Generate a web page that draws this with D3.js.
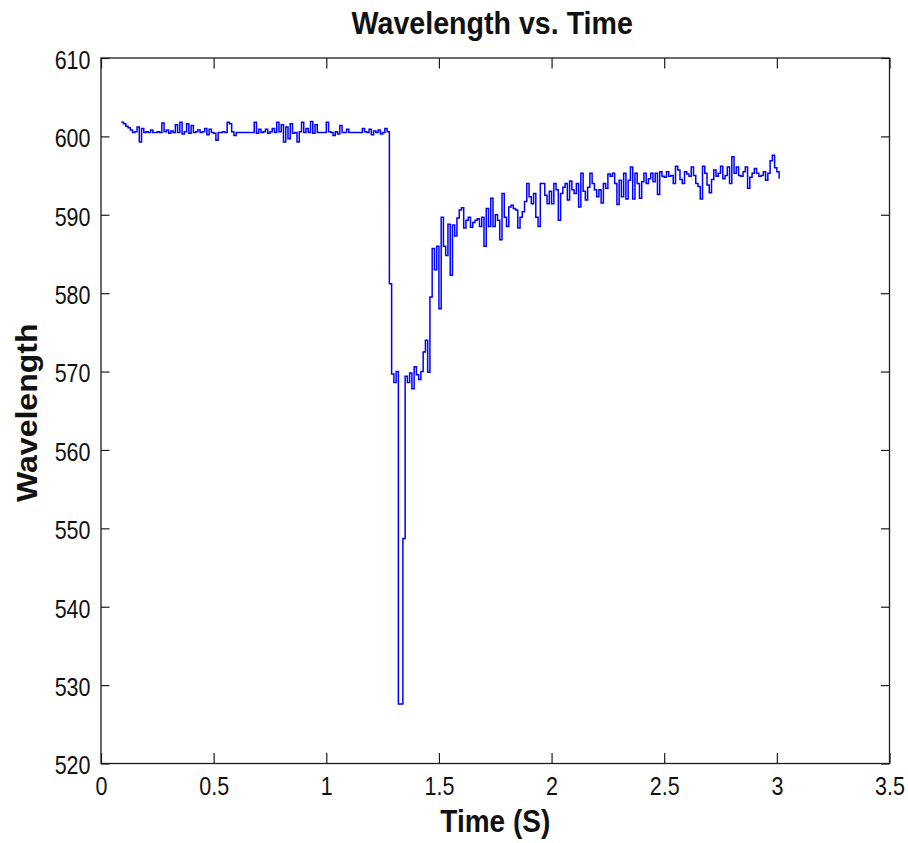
<!DOCTYPE html>
<html>
<head>
<meta charset="utf-8">
<script src="https://cdn.jsdelivr.net/npm/d3@7"></script>
<style>
  html, body { margin: 0; padding: 0; background: #fff; }
  svg { display: block; }
  text { font-family: "Liberation Sans", Arial, Helvetica, sans-serif; fill: #111; }
</style>
</head>
<body>
<svg id="chart" width="908" height="843"></svg>
<script>
// Sample clock of the recorded trace (seconds)
const sampleStart = 0.09;
const sampleStep = 0.01;

// Wavelength readings, in order of acquisition
const steadyValues = [
  601.8, 601.6, 601.3, 601.1, 600.8, 600.5, 600.6, 601.2, 599.3, 601.0,
  600.5, 600.6, 600.5, 600.8, 600.5, 600.5, 600.6, 600.5, 601.7, 600.6,
  600.8, 600.4, 600.7, 600.5, 601.5, 600.5, 601.8, 600.3, 600.6, 601.6,
  600.4, 601.4, 600.5, 600.6, 600.8, 600.5, 600.6, 601.0, 600.2, 600.9,
  600.5, 600.4, 599.5, 600.5, 600.5, 600.6, 600.5, 601.8, 601.6, 600.6,
  600.1, 600.5, 600.5, 600.5, 600.5, 600.5, 600.5, 600.5, 600.5, 601.8,
  600.4, 600.9, 600.5, 600.6, 600.9, 600.4, 600.6, 601.0, 600.5, 601.8,
  600.6, 601.5, 599.3, 601.2, 599.7, 601.6, 600.4, 600.5, 599.3, 600.6,
  601.8, 600.5, 601.0, 600.5, 601.9, 600.4, 601.5, 600.5, 600.5, 600.5,
  600.5, 601.8, 600.6, 600.5, 600.1, 600.6, 600.3, 601.4, 600.5, 600.5,
  600.9, 600.5, 600.5, 600.5, 600.5, 600.5, 600.5, 601.0, 600.6, 600.5,
  600.9, 600.2, 600.7, 600.5, 600.8, 600.3, 600.5, 601.0, 600.6
];
const dipValues = [
  581.2, 569.7, 568.6, 570.0, 527.6, 527.6, 548.7, 569.4, 568.6, 569.8,
  567.8, 570.6, 569.6, 569.0, 570.0, 572.5, 574.0, 569.9
];
const recoveryValues = [
  579.5, 585.7, 583.0, 586.0, 578.0, 589.7, 586.0, 584.8, 588.8, 582.3,
  588.7, 587.3, 589.6, 590.6, 590.9, 588.3, 589.3, 589.7, 588.4, 589.0,
  589.3, 589.5, 588.5, 589.7, 586.0, 590.8, 588.5, 592.1, 588.5, 590.0,
  589.3, 586.8, 592.7, 589.7, 588.5, 591.0, 591.2, 590.8, 590.6, 588.3,
  589.7, 590.4, 591.7, 594.0, 592.3, 591.4, 592.7, 589.7, 588.5, 594.0,
  594.0, 592.5, 591.4, 593.0, 591.4, 594.0, 593.2, 589.3, 592.7, 593.5,
  594.0, 591.9, 594.3, 593.2, 592.7, 594.0, 591.0, 595.3, 593.0, 591.9,
  593.5, 595.3, 594.0, 593.2, 592.3, 593.2, 591.5, 594.0, 593.4, 595.2,
  594.9, 595.3, 594.0, 591.3, 594.4, 592.3, 595.3, 592.0, 594.4, 596.1,
  592.0, 595.3, 594.0, 592.1, 594.2, 595.3, 594.0, 594.6, 595.3, 594.2,
  595.3, 592.6, 595.5, 594.9, 594.8, 595.5, 594.9, 595.0, 594.0, 596.2,
  595.7, 594.5, 594.0, 595.5, 595.2, 594.9, 596.1, 595.0, 594.0, 593.6,
  592.0, 596.2, 595.3, 593.8, 592.8, 594.5, 595.7, 594.9, 595.3, 596.2,
  594.6, 595.0, 596.1, 594.0, 597.4, 595.3, 596.1, 595.0, 594.9, 595.5,
  596.1, 593.4, 594.8, 595.3, 595.9, 595.3, 594.9, 595.0, 595.5, 594.4,
  595.3, 596.9, 597.6, 596.0, 595.5, 594.6
];

// Axis ticks and labels
const xTicks = [0, 0.5, 1, 1.5, 2, 2.5, 3, 3.5];
const xTickLabels = ["0", "0.5", "1", "1.5", "2", "2.5", "3", "3.5"];
const yTicks = [520, 530, 540, 550, 560, 570, 580, 590, 600, 610];
const yTickLabels = ["520", "530", "540", "550", "560", "570", "580", "590", "600", "610"];

const titleText = "Wavelength vs. Time";
const xLabelText = "Time (S)";
const yLabelText = "Wavelength";

// Combined trace as (time, wavelength) pairs
const wavelengths = steadyValues.concat(dipValues, recoveryValues);
const trace = wavelengths.map((w, i) => ({ t: sampleStart + i * sampleStep, w }));

// Layout
const plot = { left: 101, right: 889.5, top: 58, bottom: 763.5 };
const tickTextStretch = 1.2;
const labelTextStretch = 1.12;
const axisColor = "#1c1c1c";

const svg = d3.select("#chart");

const x = d3.scaleLinear().domain([0, 3.5]).range([plot.left, plot.right]);
const y = d3.scaleLinear().domain([520, 610]).range([plot.bottom, plot.top]);

// Data line
const line = d3.line()
  .x(d => x(d.t))
  .y(d => y(d.w))
  .curve(d3.curveStepAfter);

svg.append("path")
  .datum(trace)
  .attr("fill", "none")
  .attr("stroke", "#0000ff")
  .attr("stroke-width", 1.5)
  .attr("d", line);

// Axes with inward ticks on all four sides
const xLabelOf = d => xTickLabels[xTicks.indexOf(d)];
const yLabelOf = d => yTickLabels[yTicks.indexOf(d)];

function styleAxis(g) {
  g.select(".domain").remove();
  g.selectAll(".tick line").attr("stroke", axisColor).attr("stroke-width", 1.2);
}

const gx = svg.append("g")
  .attr("transform", `translate(0,${plot.bottom})`)
  .call(d3.axisBottom(x).tickValues(xTicks).tickFormat(xLabelOf).tickSize(-10.5).tickPadding(0))
  .call(styleAxis);
gx.selectAll(".tick text")
  .attr("y", 0).attr("dy", null)
  .attr("font-size", 21.5)
  .attr("fill", "#111")
  .attr("transform", `translate(0,31.5) scale(1,${tickTextStretch})`);

svg.append("g")
  .attr("transform", `translate(0,${plot.top})`)
  .call(d3.axisTop(x).tickValues(xTicks).tickFormat("").tickSize(-10.5))
  .call(styleAxis);

const gy = svg.append("g")
  .attr("transform", `translate(${plot.left},0)`)
  .call(d3.axisLeft(y).tickValues(yTicks).tickFormat(yLabelOf).tickSize(-8.5).tickPadding(0))
  .call(styleAxis);
gy.selectAll(".tick text")
  .attr("x", 0).attr("dy", "0.4em")
  .attr("font-size", 21.5)
  .attr("fill", "#111")
  .attr("transform", `translate(-10.5,0) scale(1,${tickTextStretch})`);

svg.append("g")
  .attr("transform", `translate(${plot.right},0)`)
  .call(d3.axisRight(y).tickValues(yTicks).tickFormat("").tickSize(-8.5))
  .call(styleAxis);

// Plot box
svg.append("rect")
  .attr("x", plot.left)
  .attr("y", plot.top)
  .attr("width", plot.right - plot.left)
  .attr("height", plot.bottom - plot.top)
  .attr("fill", "none")
  .attr("stroke", axisColor)
  .attr("stroke-width", 1.3);

// Titles
svg.append("text")
  .attr("transform", `translate(${(plot.left + plot.right) / 2 - 3},34) scale(1,${labelTextStretch})`)
  .attr("text-anchor", "middle")
  .attr("font-size", 28.6)
  .attr("font-weight", "bold")
  .attr("fill", "#000")
  .text(titleText);

svg.append("text")
  .attr("transform", `translate(${(plot.left + plot.right) / 2},832) scale(1,${labelTextStretch})`)
  .attr("text-anchor", "middle")
  .attr("font-size", 28)
  .attr("font-weight", "bold")
  .attr("fill", "#000")
  .text(xLabelText);

svg.append("text")
  .attr("transform", `translate(37,${(plot.top + plot.bottom) / 2 + 2}) scale(1,${labelTextStretch}) rotate(-90)`)
  .attr("text-anchor", "middle")
  .attr("font-size", 28.6)
  .attr("font-weight", "bold")
  .attr("fill", "#000")
  .text(yLabelText);
</script>
</body>
</html>
